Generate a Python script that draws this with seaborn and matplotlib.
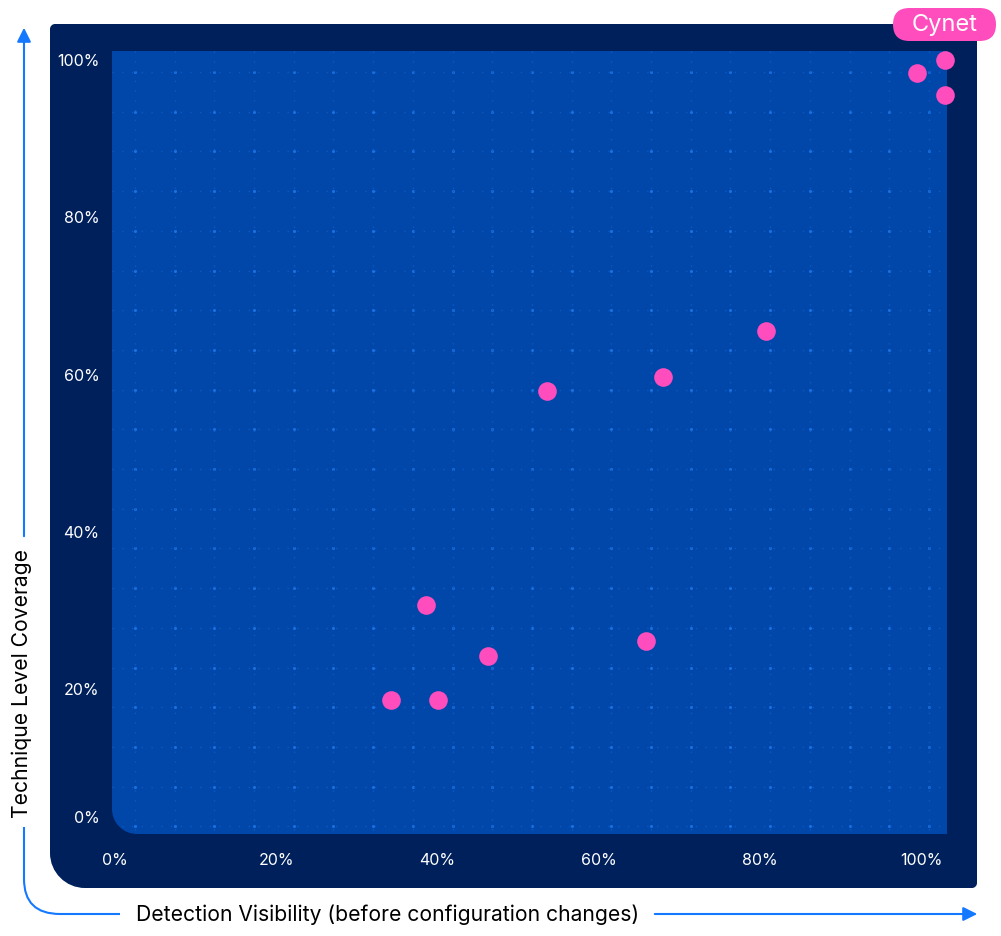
import numpy as np
import pandas as pd
import seaborn as sns
import matplotlib.pyplot as plt
from matplotlib.path import Path
from matplotlib.patches import PathPatch, FancyBboxPatch

# Detection visibility (%) vs technique level coverage (%)
visibility = [34.2, 40.0, 38.5, 46.3, 53.6, 65.9, 68.0, 80.8, 99.5, 103.0, 103.0]
coverage = [18.5, 18.5, 30.6, 24.1, 57.8, 26.0, 59.6, 65.4, 98.2, 99.8, 95.4]
x_ticks = [0, 20, 40, 60, 80, 100]
y_ticks = [3.8, 20, 40, 60, 80, 100]
tick_labels = ["0%", "20%", "40%", "60%", "80%", "100%"]
highlight = "Cynet"

NAVY = "#00205C"
BLUE = "#0047A9"
PINK = "#FF4DBE"
ARROW = "#1479FF"

sns.set_theme(style="white")
plt.rcParams['font.family'] = ['Inter', 'DejaVu Sans']


def rrect(x0, y0, x1, y1, tl, tr, br, bl):
    # rounded rectangle in pixel coords (y going down), one radius per corner
    k = 0.5523
    v = [(x0 + tl, y0), (x1 - tr, y0),
         (x1 - tr + k * tr, y0), (x1, y0 + tr - k * tr), (x1, y0 + tr),
         (x1, y1 - br),
         (x1, y1 - br + k * br), (x1 - br + k * br, y1), (x1 - br, y1),
         (x0 + bl, y1),
         (x0 + bl - k * bl, y1), (x0, y1 - bl + k * bl), (x0, y1 - bl),
         (x0, y0 + tl),
         (x0, y0 + tl - k * tl), (x0 + tl - k * tl, y0), (x0 + tl, y0)]
    c = [Path.MOVETO, Path.LINETO,
         Path.CURVE4, Path.CURVE4, Path.CURVE4,
         Path.LINETO,
         Path.CURVE4, Path.CURVE4, Path.CURVE4,
         Path.LINETO,
         Path.CURVE4, Path.CURVE4, Path.CURVE4,
         Path.LINETO,
         Path.CURVE4, Path.CURVE4, Path.CURVE4]
    return Path(v, c)


fig = plt.figure(figsize=(10.01, 9.37), dpi=100)
fig.patch.set_facecolor("white")

# background layer in pixel coordinates
bg = fig.add_axes([0, 0, 1, 1], zorder=0)
bg.set_xlim(0, 1001)
bg.set_ylim(937, 0)
bg.axis("off")

bg.add_patch(PathPatch(rrect(50, 25, 977, 889, 5, 5, 5, 35), facecolor=NAVY, edgecolor="none"))
inner = PathPatch(rrect(112, 52, 947, 835, 0, 0, 0, 25), facecolor=BLUE, edgecolor="none")
bg.add_patch(inner)

# dotted grid with brighter intersections
gx = np.arange(135, 945, 39.7)
gy = np.arange(73, 835, 39.7)
for x in gx:
    ln, = bg.plot([x, x], [52, 835], color="#0F58C0", lw=1, ls=(0, (1, 6)))
    ln.set_clip_path(inner)
for y in gy:
    ln, = bg.plot([112, 947], [y, y], color="#0F58C0", lw=1, ls=(0, (1, 6)))
    ln.set_clip_path(inner)
mx, my = np.meshgrid(gx, gy)
dots = bg.scatter(mx.ravel(), my.ravel(), s=5, color="#1A70E0", linewidths=0)
dots.set_clip_path(inner)

# axis arrows
bg.annotate("", xy=(24, 26), xytext=(24, 540),
            arrowprops=dict(arrowstyle="-|>,head_length=0.7,head_width=0.35", color=ARROW, lw=1.5))
curve = Path([(24, 828), (24, 880), (24, 915), (60, 915), (120, 915)],
             [Path.MOVETO, Path.LINETO, Path.CURVE3, Path.CURVE3, Path.LINETO])
bg.add_patch(PathPatch(curve, facecolor="none", edgecolor=ARROW, lw=1.5))
bg.annotate("", xy=(980, 915), xytext=(652, 915),
            arrowprops=dict(arrowstyle="-|>,head_length=0.7,head_width=0.35", color=ARROW, lw=1.5))

bg.text(388, 915, "Detection Visibility (before configuration changes)",
        ha="center", va="center", fontsize=15.2, color="black")
bg.text(22, 684, "Technique Level Coverage", rotation=90,
        ha="center", va="center", fontsize=15.2, color="black")

# highlight pill
bg.add_patch(FancyBboxPatch((893, 9), 103, 33, boxstyle="round,pad=0,rounding_size=16.5",
                            facecolor=PINK, edgecolor="none"))
bg.text(945, 25.5, highlight, ha="center", va="center", fontsize=17, color="white")

# data axes aligned with the inner blue panel
ax = fig.add_axes([112 / 1001, 1 - 835 / 937, (947 - 112) / 1001, (835 - 52) / 937], zorder=1)
ax.patch.set_alpha(0)
df = pd.DataFrame({"visibility": visibility, "coverage": coverage})
sns.scatterplot(data=df, x="visibility", y="coverage", ax=ax, color=PINK,
                s=180, linewidth=0, clip_on=False, legend=False)
ax.set_xlim(-0.4, 103.2)
ax.set_ylim(1.5, 101)
ax.set_xticks(x_ticks)
ax.set_xticklabels(tick_labels)
ax.set_yticks(y_ticks)
ax.set_yticklabels(tick_labels)
ax.tick_params(axis="x", length=0, pad=13, colors="white", labelsize=11.5)
ax.tick_params(axis="y", length=0, pad=9, colors="white", labelsize=11.5)
ax.set_xlabel("")
ax.set_ylabel("")
for s in ax.spines.values():
    s.set_visible(False)

plt.savefig("out.png", dpi=100)
